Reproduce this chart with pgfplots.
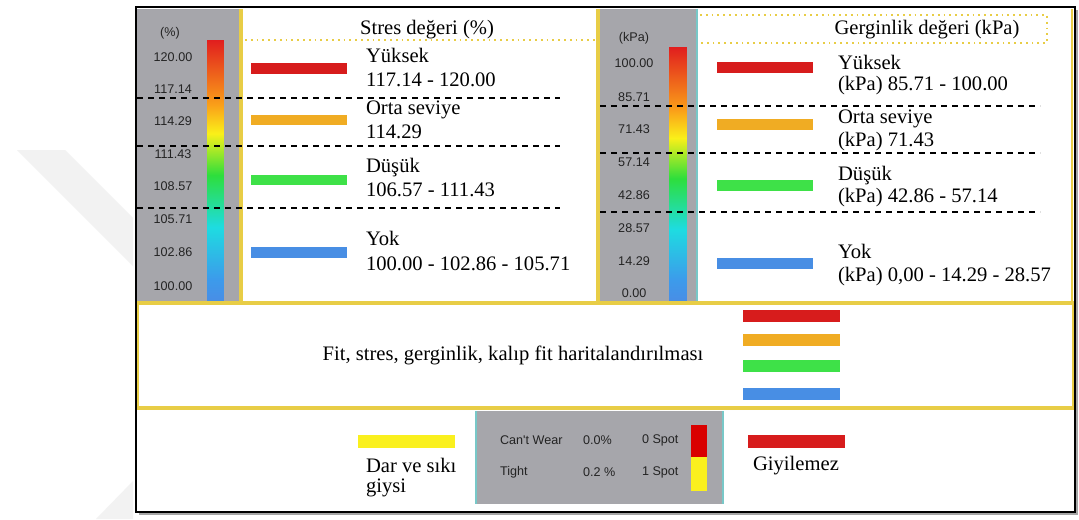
\documentclass[border=0pt]{standalone}
\usepackage{pgfplots}
\pgfplotsset{compat=1.18}
\usepackage{fontspec}
\setmainfont{Liberation Serif}
\newfontfamily\arialf{Liberation Sans}

\definecolor{cRed}{RGB}{215,28,28}
\definecolor{cOrange}{RGB}{240,172,35}
\definecolor{cGreen}{RGB}{62,225,72}
\definecolor{cBlue}{RGB}{72,142,228}
\definecolor{cYellow}{RGB}{250,240,30}
\definecolor{cBorder}{RGB}{232,205,70}
\definecolor{cPanel}{RGB}{166,166,171}
\definecolor{cTeal}{RGB}{120,200,200}
\definecolor{cTick}{RGB}{35,35,35}
\definecolor{cWater}{RGB}{242,242,242}

\newcommand{\serif}{\fontsize{10.3}{11}\selectfont}
\newcommand{\tickf}{\arialf\fontsize{6.3}{7}\selectfont}

\begin{document}
\begin{tikzpicture}
\begin{axis}[
  x=0.5pt, y=0.5pt, scale only axis,
  xmin=0, xmax=1079, ymin=0, ymax=519, y dir=reverse,
  hide axis, clip=false, no markers,
  colormap={bar}{rgb255(0cm)=(72,142,230); rgb255(0.8cm)=(60,155,235); rgb255(2.8cm)=(30,220,225);
    rgb255(4.8cm)=(45,222,60); rgb255(6.4cm)=(250,240,25); rgb255(7.5cm)=(250,160,25); rgb255(10cm)=(225,30,30)},
  point meta min=0, point meta max=100,
]
% background and watermark
\addplot[fill=white, draw=none] coordinates {(0,0)(1079,0)(1079,519)(0,519)} --cycle;
\addplot[fill=cWater, draw=none] coordinates {(17,150)(65,150)(133,218)(133,266)} --cycle;
\addplot[fill=cWater, draw=none] coordinates {(96,519)(133,481)(133,519)} --cycle;

% gray panels
\addplot[fill=cPanel, draw=none] coordinates {(137,9)(239,9)(239,302)(137,302)} --cycle;
\addplot[fill=cPanel, draw=none] coordinates {(599,9)(696,9)(696,302)(599,302)} --cycle;
\addplot[fill=cPanel, draw=none] coordinates {(476,411)(723,411)(723,504)(476,504)} --cycle;
\addplot[cTeal, line width=1.2pt] coordinates {(697,9)(697,302)};
\addplot[cTeal, line width=1.2pt] coordinates {(476,411)(476,504)};
\addplot[cTeal, line width=1.2pt] coordinates {(723,411)(723,504)};

% colour bars
\addplot[patch, shader=interp, point meta=explicit] coordinates {
  (207,300) [0] (223,300) [0] (207,40) [100]
  (223,300) [0] (223,40) [100] (207,40) [100]};
\addplot[patch, shader=interp, point meta=explicit] coordinates {
  (669,300) [0] (686,300) [0] (669,47) [100]
  (686,300) [0] (686,47) [100] (669,47) [100]};

% yellow borders
\addplot[cBorder, line width=1.6pt] coordinates {(241,9)(241,302)};
\addplot[cBorder, line width=1.6pt] coordinates {(598,9)(598,302)};
\addplot[cBorder, line width=1.2pt] coordinates {(1072,9)(1072,302)};
\addplot[cBorder, line width=1.6pt] coordinates {(137,408)(1074,408)(1074,303)(137,303)} --cycle;
\addplot[cBorder, line width=0.9pt, dotted] coordinates {(245,40)(597,40)};
\addplot[cBorder, line width=0.9pt, dotted] coordinates {(700,15)(1047,15)(1047,43)(700,43)};

% dashed separators
\addplot[black, line width=0.6pt, dash pattern=on 3pt off 2.5pt] coordinates {(137,98)(560,98)};
\addplot[black, line width=0.6pt, dash pattern=on 3pt off 2.5pt] coordinates {(137,146)(560,146)};
\addplot[black, line width=0.6pt, dash pattern=on 3pt off 2.5pt] coordinates {(137,208)(560,208)};
\addplot[black, line width=0.6pt, dash pattern=on 3pt off 2.5pt] coordinates {(600,106)(1040,106)};
\addplot[black, line width=0.6pt, dash pattern=on 3pt off 2.5pt] coordinates {(600,153)(1040,153)};
\addplot[black, line width=0.6pt, dash pattern=on 3pt off 2.5pt] coordinates {(600,212)(1040,212)};

% swatches, stress
\addplot[cRed, line width=5.5pt] coordinates {(251,68.5)(347,68.5)};
\addplot[cOrange, line width=5pt] coordinates {(251,120)(347,120)};
\addplot[cGreen, line width=5pt] coordinates {(251,180)(347,180)};
\addplot[cBlue, line width=5.5pt] coordinates {(251,252.5)(347,252.5)};
% swatches, strain
\addplot[cRed, line width=5.5pt] coordinates {(717,67.5)(813,67.5)};
\addplot[cOrange, line width=5.5pt] coordinates {(717,124.5)(813,124.5)};
\addplot[cGreen, line width=5.5pt] coordinates {(717,185.5)(813,185.5)};
\addplot[cBlue, line width=5.5pt] coordinates {(717,263.5)(813,263.5)};
% swatches, middle
\addplot[cRed, line width=6pt] coordinates {(743,316)(840,316)};
\addplot[cOrange, line width=6pt] coordinates {(743,340)(840,340)};
\addplot[cGreen, line width=6pt] coordinates {(743,366)(840,366)};
\addplot[cBlue, line width=6pt] coordinates {(743,394)(840,394)};
% swatches, bottom
\addplot[cYellow, line width=6.5pt] coordinates {(358,441.5)(455,441.5)};
\addplot[cRed, line width=6.5pt] coordinates {(748,441.5)(845,441.5)};
\addplot[red!85!black, line width=8pt] coordinates {(698.5,425)(698.5,457)};
\addplot[cYellow, line width=8pt] coordinates {(698.5,457)(698.5,491)};

% outer frame
\addplot[black!35, line width=1pt] coordinates {(139,514)(1077,514)(1077,10)};
\addplot[black, line width=0.8pt] coordinates {(136,7)(1075,7)(1075,512)(136,512)} --cycle;

% colour bar labels, stress
\node[font=\tickf, text=cTick] at (axis cs:170,33) {(\%)};
\node[font=\tickf, text=cTick] at (axis cs:173,57) {120.00};
\node[font=\tickf, text=cTick] at (axis cs:173,89) {117.14};
\node[font=\tickf, text=cTick] at (axis cs:173,121) {114.29};
\node[font=\tickf, text=cTick] at (axis cs:173,154) {111.43};
\node[font=\tickf, text=cTick] at (axis cs:173,186) {108.57};
\node[font=\tickf, text=cTick] at (axis cs:173,219) {105.71};
\node[font=\tickf, text=cTick] at (axis cs:173,252) {102.86};
\node[font=\tickf, text=cTick] at (axis cs:173,286) {100.00};
% colour bar labels, strain
\node[font=\tickf, text=cTick] at (axis cs:634,38) {(kPa)};
\node[font=\tickf, text=cTick] at (axis cs:634,63) {100.00};
\node[font=\tickf, text=cTick] at (axis cs:634,97) {85.71};
\node[font=\tickf, text=cTick] at (axis cs:634,129) {71.43};
\node[font=\tickf, text=cTick] at (axis cs:634,162) {57.14};
\node[font=\tickf, text=cTick] at (axis cs:634,195) {42.86};
\node[font=\tickf, text=cTick] at (axis cs:634,228) {28.57};
\node[font=\tickf, text=cTick] at (axis cs:634,261) {14.29};
\node[font=\tickf, text=cTick] at (axis cs:634,293) {0.00};

% titles
\node[font=\serif] at (axis cs:427,30) {Stres değeri (\%)};
\node[font=\serif] at (axis cs:927,30) {Gerginlik değeri (kPa)};

% stress labels
\node[font=\serif, anchor=west] at (axis cs:359,55) {Yüksek};
\node[font=\serif, anchor=west] at (axis cs:359,80) {117.14 - 120.00};
\node[font=\serif, anchor=west] at (axis cs:359,110) {Orta seviye};
\node[font=\serif, anchor=west] at (axis cs:359,132) {114.29};
\node[font=\serif, anchor=west] at (axis cs:359,168) {Düşük};
\node[font=\serif, anchor=west] at (axis cs:359,190) {106.57 - 111.43};
\node[font=\serif, anchor=west] at (axis cs:359,238) {Yok};
\node[font=\serif, anchor=west] at (axis cs:359,264) {100.00 - 102.86 - 105.71};
% strain labels
\node[font=\serif, anchor=west] at (axis cs:831,62) {Yüksek};
\node[font=\serif, anchor=west] at (axis cs:831,86) {(kPa) 85.71 - 100.00};
\node[font=\serif, anchor=west] at (axis cs:831,119) {Orta seviye};
\node[font=\serif, anchor=west] at (axis cs:831,142) {(kPa) 71.43};
\node[font=\serif, anchor=west] at (axis cs:831,176) {Düşük};
\node[font=\serif, anchor=west] at (axis cs:831,198) {(kPa) 42.86 - 57.14};
\node[font=\serif, anchor=west] at (axis cs:831,251) {Yok};
\node[font=\serif, anchor=west] at (axis cs:831,277) {(kPa) 0,00 - 14.29 - 28.57};

% middle and bottom text
\node[font=\serif] at (axis cs:513,355) {Fit, stres, gerginlik, kalıp fit haritalandırılması};
\node[font=\serif, anchor=west] at (axis cs:359,465) {Dar ve sıkı};
\node[font=\serif, anchor=west] at (axis cs:359,488) {giysi};
\node[font=\serif, anchor=west] at (axis cs:746,466) {Giyilemez};
\node[font=\tickf, text=cTick, anchor=west] at (axis cs:493,440) {Can't Wear};
\node[font=\tickf, text=cTick, anchor=west] at (axis cs:576,440) {0.0\%};
\node[font=\tickf, text=cTick, anchor=west] at (axis cs:635,440) {0 Spot};
\node[font=\tickf, text=cTick, anchor=west] at (axis cs:493,472) {Tight};
\node[font=\tickf, text=cTick, anchor=west] at (axis cs:576,472) {0.2 \%};
\node[font=\tickf, text=cTick, anchor=west] at (axis cs:635,472) {1 Spot};
\end{axis}
\end{tikzpicture}
\end{document}
